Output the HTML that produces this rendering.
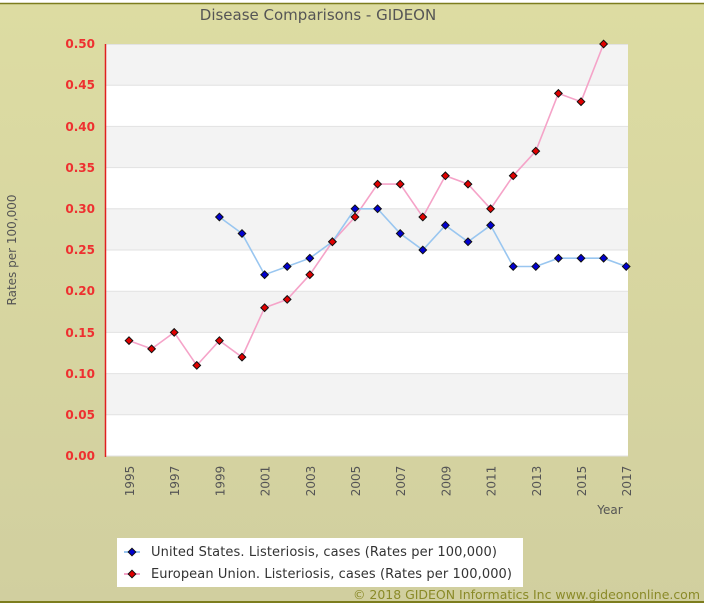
<!DOCTYPE html>
<html><head><meta charset="utf-8"><style>
html,body{margin:0;padding:0;background:#fff;}
svg{display:block;font-family:"DejaVu Sans","Liberation Sans",sans-serif;}
</style></head><body>
<svg width="706" height="606" viewBox="0 0 706 606" xmlns="http://www.w3.org/2000/svg">
<defs>
<linearGradient id="bg" x1="0" y1="0" x2="0" y2="1">
<stop offset="0" stop-color="#dddca2"/><stop offset="1" stop-color="#d1cf9f"/>
</linearGradient>
<g id="dr"><path d="M0,-3.8 L3.8,0 L0,3.8 L-3.8,0Z" fill="#e00000" stroke="#111" stroke-width="1"/></g>
<g id="db"><path d="M0,-3.8 L3.8,0 L0,3.8 L-3.8,0Z" fill="#0000d0" stroke="#111" stroke-width="1"/></g>
</defs>
<rect x="0" y="0" width="706" height="606" fill="#fff"/>
<rect x="0" y="3" width="704" height="599" fill="url(#bg)"/>
<line x1="0" y1="3.5" x2="704" y2="3.5" stroke="#7d7d1e" stroke-width="1.5"/>
<line x1="0" y1="602" x2="704" y2="602" stroke="#7d7d1e" stroke-width="2"/>
<text x="318" y="20" font-size="15" fill="#555" text-anchor="middle">Disease Comparisons - GIDEON</text>
<rect x="106" y="44" width="522" height="412" fill="#fff"/>
<rect x="106" y="44" width="522" height="41.2" fill="#f3f3f3"/>
<rect x="106" y="126.4" width="522" height="41.2" fill="#f3f3f3"/>
<rect x="106" y="208.8" width="522" height="41.2" fill="#f3f3f3"/>
<rect x="106" y="291.2" width="522" height="41.2" fill="#f3f3f3"/>
<rect x="106" y="373.6" width="522" height="41.2" fill="#f3f3f3"/>
<g stroke="#e2e2e2" stroke-width="1">
<line x1="106" x2="628" y1="44.5" y2="44.5"/><line x1="106" x2="628" y1="85.2" y2="85.2"/>
<line x1="106" x2="628" y1="126.4" y2="126.4"/><line x1="106" x2="628" y1="167.6" y2="167.6"/>
<line x1="106" x2="628" y1="208.8" y2="208.8"/><line x1="106" x2="628" y1="250" y2="250"/>
<line x1="106" x2="628" y1="291.2" y2="291.2"/><line x1="106" x2="628" y1="332.4" y2="332.4"/>
<line x1="106" x2="628" y1="373.6" y2="373.6"/><line x1="106" x2="628" y1="414.8" y2="414.8"/>
<line x1="106" x2="628" y1="456" y2="456"/>
</g>
<line x1="105.5" y1="44" x2="105.5" y2="457" stroke="#e02020" stroke-width="1.5"/>
<g font-size="12" fill="#ee3030" text-anchor="end" font-weight="bold">
<text x="95" y="48">0.50</text><text x="95" y="89">0.45</text><text x="95" y="131">0.40</text>
<text x="95" y="172">0.35</text><text x="95" y="213">0.30</text><text x="95" y="254">0.25</text>
<text x="95" y="295">0.20</text><text x="95" y="337">0.15</text><text x="95" y="378">0.10</text>
<text x="95" y="419">0.05</text><text x="95" y="460">0.00</text>
</g>
<text transform="translate(16,250) rotate(-90)" font-size="12" fill="#555" text-anchor="middle">Rates per 100,000</text>
<g font-size="12" fill="#555" text-anchor="middle">
<text transform="translate(134,481) rotate(-90)">1995</text>
<text transform="translate(179.2,481) rotate(-90)">1997</text>
<text transform="translate(224.4,481) rotate(-90)">1999</text>
<text transform="translate(269.6,481) rotate(-90)">2001</text>
<text transform="translate(314.8,481) rotate(-90)">2003</text>
<text transform="translate(360,481) rotate(-90)">2005</text>
<text transform="translate(405.2,481) rotate(-90)">2007</text>
<text transform="translate(450.4,481) rotate(-90)">2009</text>
<text transform="translate(495.6,481) rotate(-90)">2011</text>
<text transform="translate(540.8,481) rotate(-90)">2013</text>
<text transform="translate(586,481) rotate(-90)">2015</text>
<text transform="translate(631.2,481) rotate(-90)">2017</text>
</g>
<text x="610" y="514" font-size="12" fill="#555" text-anchor="middle">Year</text>
<polyline fill="none" stroke="#f5a3c8" stroke-width="1.6" points="129,340.6 151.6,348.9 174.2,332.4 196.8,365.4 219.4,340.6 242,357.1 264.6,307.7 287.2,299.4 309.8,274.7 332.4,241.8 355,217 377.6,184.1 400.2,184.1 422.8,217 445.4,175.8 468,184.1 490.6,208.8 513.2,175.8 535.8,151.1 558.4,93.4 581,101.7 603.6,44"/>
<polyline fill="none" stroke="#99c6f0" stroke-width="1.6" points="219.4,217 242,233.5 264.6,274.7 287.2,266.5 309.8,258.2 332.4,241.8 355,208.8 377.6,208.8 400.2,233.5 422.8,250 445.4,225.3 468,241.8 490.6,225.3 513.2,266.5 535.8,266.5 558.4,258.2 581,258.2 603.6,258.2 626.2,266.5"/>
<g>
<use href="#db" x="219.4" y="217"/><use href="#db" x="242" y="233.5"/><use href="#db" x="264.6" y="274.7"/><use href="#db" x="287.2" y="266.5"/><use href="#db" x="309.8" y="258.2"/><use href="#db" x="332.4" y="241.8"/><use href="#db" x="355" y="208.8"/><use href="#db" x="377.6" y="208.8"/><use href="#db" x="400.2" y="233.5"/><use href="#db" x="422.8" y="250"/><use href="#db" x="445.4" y="225.3"/><use href="#db" x="468" y="241.8"/><use href="#db" x="490.6" y="225.3"/><use href="#db" x="513.2" y="266.5"/><use href="#db" x="535.8" y="266.5"/><use href="#db" x="558.4" y="258.2"/><use href="#db" x="581" y="258.2"/><use href="#db" x="603.6" y="258.2"/><use href="#db" x="626.2" y="266.5"/>
<use href="#dr" x="129" y="340.6"/><use href="#dr" x="151.6" y="348.9"/><use href="#dr" x="174.2" y="332.4"/><use href="#dr" x="196.8" y="365.4"/><use href="#dr" x="219.4" y="340.6"/><use href="#dr" x="242" y="357.1"/><use href="#dr" x="264.6" y="307.7"/><use href="#dr" x="287.2" y="299.4"/><use href="#dr" x="309.8" y="274.7"/><use href="#dr" x="332.4" y="241.8"/><use href="#dr" x="355" y="217"/><use href="#dr" x="377.6" y="184.1"/><use href="#dr" x="400.2" y="184.1"/><use href="#dr" x="422.8" y="217"/><use href="#dr" x="445.4" y="175.8"/><use href="#dr" x="468" y="184.1"/><use href="#dr" x="490.6" y="208.8"/><use href="#dr" x="513.2" y="175.8"/><use href="#dr" x="535.8" y="151.1"/><use href="#dr" x="558.4" y="93.4"/><use href="#dr" x="581" y="101.7"/><use href="#dr" x="603.6" y="44"/>
</g>
<rect x="117" y="538" width="406" height="49" fill="#fff"/>
<line x1="124" x2="140" y1="552" y2="552" stroke="#99c6f0" stroke-width="2"/>
<use href="#db" x="132" y="552"/>
<line x1="124" x2="140" y1="574" y2="574" stroke="#f5a3c8" stroke-width="2"/>
<use href="#dr" x="132" y="574"/>
<text x="151" y="556" font-size="13" fill="#333" textLength="346">United States. Listeriosis, cases (Rates per 100,000)</text>
<text x="151" y="578" font-size="13" fill="#333" textLength="361">European Union. Listeriosis, cases (Rates per 100,000)</text>
<text x="700" y="599" font-size="12.5" fill="#8a8a28" text-anchor="end" textLength="347">© 2018 GIDEON Informatics Inc www.gideononline.com</text>
</svg>
</body></html>
